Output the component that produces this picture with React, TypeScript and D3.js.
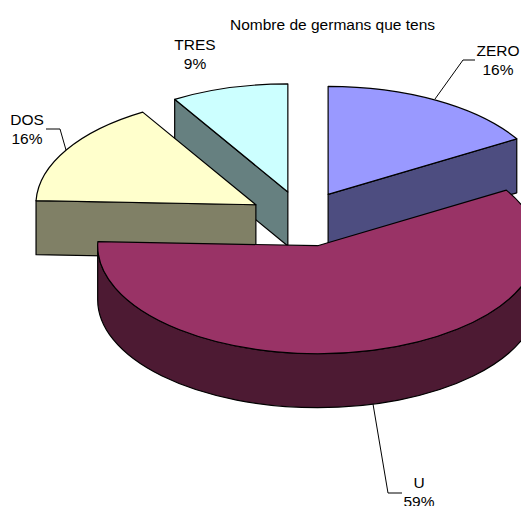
import React from "react";
import * as d3 from "d3";

const categories = ["ZERO", "U", "DOS", "TRES"];
const shares = [16.4, 59.2, 15.8, 8.6];
const percentLabels = ["16%", "59%", "16%", "9%"];
const topColors = ["#9999ff", "#993366", "#ffffcc", "#ccffff"];
const sideColors = ["#4d4d80", "#4d1a33", "#808066", "#668080"];
const title = "Nombre de germans que tens";

const W = 521, H = 506;
const BASE_X = 302, BASE_Y = 217, RX = 220, RY = 108, DEPTH = 54, EXPLODE = 53;
const FONT = "'Liberation Sans', Arial, sans-serif";
const FONT_SIZE = 15.5;

const labelPos: Record<string, { x: number; y: number; leader?: [number, number][] }> = {
  ZERO: { x: 498, y: 56, leader: [[435, 99], [463, 60], [475, 60]] },
  U: { x: 419, y: 488, leader: [[373, 404], [388, 493], [402, 493]] },
  DOS: { x: 27, y: 125, leader: [[66, 150], [60, 129], [46, 129]] },
  TRES: { x: 195, y: 50 },
};

const nudges: Record<string, [number, number]> = {
  ZERO: [0, 0],
  U: [2.5, 3.5],
  DOS: [-0.5, 1],
  TRES: [0, 0],
};

type Slice = { start: number; end: number; cx: number; cy: number; i: number; name: string };

const arcs = d3.pie<number>().sort(null)(shares);
const slices: Slice[] = arcs.map((a, i) => {
  const mid = (a.startAngle + a.endAngle) / 2;
  const [nx, ny] = nudges[categories[i]];
  return {
    start: a.startAngle,
    end: a.endAngle,
    cx: BASE_X + EXPLODE * Math.sin(mid) + nx,
    cy: BASE_Y - EXPLODE * (RY / RX) * Math.cos(mid) + ny,
    i,
    name: categories[i],
  };
});

const pt = (s: Slice, a: number, dy = 0): [number, number] => [
  s.cx + RX * Math.sin(a),
  s.cy - RY * Math.cos(a) + dy,
];

const arcTo = (s: Slice, a0: number, a1: number, dy = 0) => {
  const [x, y] = pt(s, a1, dy);
  const large = Math.abs(a1 - a0) > Math.PI ? 1 : 0;
  const sweep = a1 > a0 ? 1 : 0;
  return `A${RX},${RY} 0 ${large} ${sweep} ${x},${y}`;
};

const topPath = (s: Slice) => {
  const [x0, y0] = pt(s, s.start);
  return `M${s.cx},${s.cy}L${x0},${y0}${arcTo(s, s.start, s.end)}Z`;
};

const wallPath = (s: Slice, a: number) => {
  const [x, y] = pt(s, a);
  return `M${s.cx},${s.cy}L${x},${y}L${x},${y + DEPTH}L${s.cx},${s.cy + DEPTH}Z`;
};

const rimPath = (s: Slice) => {
  const a0 = Math.max(s.start, Math.PI / 2);
  const a1 = Math.min(s.end, (3 * Math.PI) / 2);
  if (a1 <= a0) return null;
  const [x0, y0] = pt(s, a0);
  const [x1, y1] = pt(s, a1, DEPTH);
  return `M${x0},${y0}${arcTo(s, a0, a1)}L${x1},${y1}${arcTo(s, a1, a0, DEPTH)}Z`;
};

// Painter's order: back slices first, the big front slice last.
const drawOrder = [3, 0, 2, 1];
// Which radial edge of each slice shows a wall towards the viewer.
const walls: Record<string, "start" | "end" | null> = { ZERO: "end", U: null, DOS: "start", TRES: "start" };

export default function App() {
  const line = d3.line();
  return (
    <svg width={W} height={H} viewBox={`0 0 ${W} ${H}`}
      style={{ position: "absolute", left: 0, top: 0, background: "#fff", display: "block" }}>
      {drawOrder.map((idx) => {
        const s = slices[idx];
        const w = walls[s.name];
        const rim = rimPath(s);
        return (
          <g key={s.name} stroke="#000" strokeWidth={1.2} strokeLinejoin="round">
            {w && <path d={wallPath(s, w === "start" ? s.start : s.end)} fill={sideColors[idx]} />}
            {rim && <path d={rim} fill={sideColors[idx]} />}
            <path d={topPath(s)} fill={topColors[idx]} />
          </g>
        );
      })}
      {categories.map((name, i) => {
        const p = labelPos[name];
        return (
          <g key={name}>
            {p.leader && <path d={line(p.leader) ?? ""} fill="none" stroke="#000" strokeWidth={1} />}
            <text x={p.x} y={p.y} textAnchor="middle" fontFamily={FONT} fontSize={FONT_SIZE} fill="#000">{name}</text>
            <text x={p.x} y={p.y + 19} textAnchor="middle" fontFamily={FONT} fontSize={FONT_SIZE} fill="#000">{percentLabels[i]}</text>
          </g>
        );
      })}
      <text x={230} y={30} fontFamily={FONT} fontSize={FONT_SIZE} fill="#000">{title}</text>
    </svg>
  );
}
